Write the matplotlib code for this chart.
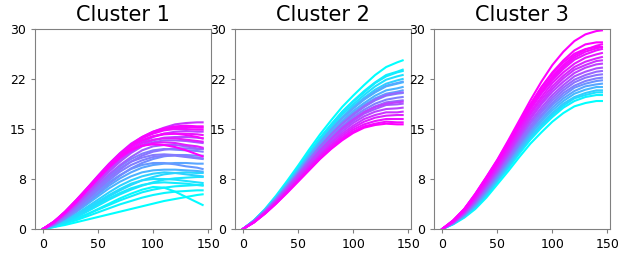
import matplotlib.pyplot as plt
from matplotlib import cm

# sample positions along x for every curve
x_pts = [0, 10, 20, 30, 40, 50, 60, 70, 80, 90, 100, 110, 120, 130, 140, 145]

# cluster 1: colour value (0 = cyan, 1 = magenta) and curve values
c1_colors = [0.0, 0.02, 0.04, 0.06, 0.08, 0.1, 0.12, 0.15, 0.18,
             0.3, 0.35, 0.4, 0.45, 0.5, 0.52, 0.55, 0.5,
             0.62, 0.66, 0.7, 0.74,
             0.78, 0.88, 0.9, 0.92, 0.94, 0.96, 0.98, 1.0, 0.97]
c1_values = [
    [0, 0.3, 0.6, 1.0, 1.4, 1.8, 2.2, 2.6, 3.0, 3.4, 3.8, 4.2, 4.5, 4.8, 5.1, 5.2],
    [0, 0.4, 0.9, 1.5, 2.2, 3.0, 3.8, 4.6, 5.3, 5.9, 6.3, 6.2, 5.6, 4.8, 4.0, 3.6],
    [0, 0.3, 0.8, 1.3, 1.9, 2.5, 3.1, 3.7, 4.2, 4.7, 5.1, 5.4, 5.6, 5.7, 5.8, 5.8],
    [0, 0.4, 0.9, 1.5, 2.2, 2.9, 3.6, 4.3, 4.9, 5.5, 5.9, 6.2, 6.4, 6.5, 6.6, 6.6],
    [0, 0.5, 1.1, 1.9, 2.8, 3.7, 4.6, 5.4, 6.1, 6.6, 6.9, 7.0, 6.9, 6.8, 6.6, 6.5],
    [0, 0.4, 1.0, 1.7, 2.6, 3.5, 4.4, 5.2, 5.9, 6.5, 7.0, 7.4, 7.6, 7.7, 7.8, 7.8],
    [0, 0.5, 1.2, 2.1, 3.1, 4.1, 5.1, 6.0, 6.8, 7.3, 7.5, 7.5, 7.4, 7.2, 7.0, 6.9],
    [0, 0.5, 1.1, 1.9, 2.9, 3.9, 4.9, 5.8, 6.6, 7.3, 7.8, 8.2, 8.4, 8.5, 8.4, 8.4],
    [0, 0.6, 1.3, 2.2, 3.3, 4.4, 5.5, 6.5, 7.3, 7.9, 8.3, 8.5, 8.4, 8.2, 8.0, 7.9],
    [0, 0.6, 1.5, 2.5, 3.7, 4.9, 6.1, 7.1, 7.9, 8.5, 8.8, 8.9, 8.9, 8.8, 8.7, 8.6],
    [0, 0.6, 1.5, 2.6, 3.9, 5.2, 6.5, 7.6, 8.5, 9.2, 9.6, 9.8, 9.9, 9.9, 9.8, 9.8],
    [0, 0.7, 1.7, 2.9, 4.3, 5.7, 7.0, 8.1, 9.0, 9.6, 9.9, 9.9, 9.7, 9.4, 9.2, 9.0],
    [0, 0.6, 1.6, 2.7, 4.0, 5.4, 6.8, 8.0, 9.1, 9.9, 10.5, 10.9, 11.1, 11.1, 11.0, 11.0],
    [0, 0.7, 1.7, 3.0, 4.4, 5.9, 7.3, 8.6, 9.6, 10.3, 10.8, 11.0, 11.0, 10.8, 10.6, 10.5],
    [0, 0.8, 1.9, 3.2, 4.7, 6.3, 7.8, 9.1, 10.1, 10.7, 11.1, 11.2, 11.1, 10.9, 10.7, 10.6],
    [0, 0.7, 1.8, 3.1, 4.6, 6.1, 7.6, 8.9, 10.1, 11.0, 11.6, 11.9, 12.1, 12.1, 12.0, 12.0],
    [0, 0.8, 1.9, 3.3, 4.8, 6.4, 8.0, 9.4, 10.5, 11.3, 11.8, 12.0, 11.9, 11.8, 11.7, 11.6],
    [0, 0.8, 2.0, 3.4, 5.0, 6.6, 8.2, 9.6, 10.8, 11.8, 12.4, 12.6, 12.6, 12.4, 12.1, 12.0],
    [0, 0.9, 2.1, 3.6, 5.2, 6.9, 8.6, 10.1, 11.4, 12.4, 13.0, 13.3, 13.3, 13.2, 13.0, 12.9],
    [0, 0.9, 2.1, 3.6, 5.3, 7.0, 8.7, 10.2, 11.6, 12.6, 13.3, 13.7, 13.8, 13.8, 13.7, 13.6],
    [0, 0.9, 2.2, 3.7, 5.4, 7.2, 8.9, 10.5, 11.9, 13.0, 13.8, 14.3, 14.6, 14.7, 14.6, 14.6],
    [0, 1.1, 2.6, 4.3, 6.1, 8.0, 9.8, 11.4, 12.8, 13.8, 14.6, 15.2, 15.7, 15.9, 16.0, 16.0],
    [0, 1.0, 2.4, 4.0, 5.8, 7.5, 9.2, 10.6, 11.7, 12.5, 12.9, 13.0, 12.9, 12.6, 12.4, 12.2],
    [0, 1.0, 2.4, 4.0, 5.8, 7.6, 9.3, 10.8, 12.0, 12.9, 13.4, 13.6, 13.6, 13.4, 13.2, 13.1],
    [0, 1.0, 2.5, 4.1, 5.9, 7.7, 9.5, 11.0, 12.3, 13.3, 13.9, 14.2, 14.3, 14.3, 14.2, 14.1],
    [0, 1.1, 2.5, 4.2, 6.0, 7.8, 9.6, 11.2, 12.5, 13.6, 14.3, 14.8, 15.0, 15.0, 14.9, 14.9],
    [0, 1.1, 2.5, 4.2, 6.0, 7.9, 9.7, 11.3, 12.6, 13.7, 14.5, 15.0, 15.2, 15.3, 15.2, 15.2],
    [0, 1.1, 2.6, 4.3, 6.1, 7.9, 9.7, 11.3, 12.7, 13.8, 14.6, 15.1, 15.4, 15.5, 15.4, 15.4],
    [0, 1.0, 2.4, 4.0, 5.8, 7.6, 9.3, 10.8, 11.9, 12.5, 12.7, 12.6, 12.3, 11.8, 11.2, 10.9],
    [0, 1.1, 2.5, 4.2, 6.0, 7.8, 9.5, 11.0, 12.3, 13.3, 13.9, 14.3, 14.3, 14.1, 13.8, 13.6],
]

# cluster 2
c2_colors = [0.0, 0.05, 0.08, 0.12, 0.18, 0.35, 0.25, 0.3, 0.38, 0.6, 0.45,
             0.5, 0.58, 0.75, 0.65, 0.72, 0.8, 0.86, 0.92, 0.95, 1.0]
c2_values = [
    [0, 1.3, 3.0, 5.0, 7.2, 9.5, 11.9, 14.2, 16.3, 18.3, 20.0, 21.6, 23.1, 24.3, 25.0, 25.3],
    [0, 1.3, 2.9, 4.8, 6.9, 9.2, 11.5, 13.7, 15.7, 17.6, 19.2, 20.7, 22.0, 23.1, 23.6, 23.9],
    [0, 1.3, 2.9, 4.8, 6.9, 9.1, 11.4, 13.6, 15.6, 17.5, 19.1, 20.5, 21.9, 22.9, 23.5, 23.7],
    [0, 1.2, 2.8, 4.7, 6.8, 9.0, 11.2, 13.4, 15.3, 17.2, 18.7, 20.1, 21.4, 22.4, 22.9, 23.1],
    [0, 1.2, 2.8, 4.7, 6.7, 8.8, 11.0, 13.1, 15.0, 16.8, 18.4, 19.7, 20.9, 21.8, 22.3, 22.5],
    [0, 1.2, 2.8, 4.6, 6.6, 8.7, 10.9, 13.0, 14.9, 16.6, 18.1, 19.5, 20.6, 21.5, 21.9, 22.1],
    [0, 1.2, 2.8, 4.6, 6.6, 8.7, 10.8, 12.9, 14.8, 16.6, 18.1, 19.4, 20.5, 21.4, 21.8, 22.0],
    [0, 1.2, 2.7, 4.5, 6.5, 8.5, 10.6, 12.7, 14.5, 16.2, 17.7, 18.9, 20.0, 20.8, 21.1, 21.3],
    [0, 1.2, 2.7, 4.4, 6.4, 8.4, 10.5, 12.5, 14.3, 16.0, 17.4, 18.6, 19.6, 20.3, 20.6, 20.8],
    [0, 1.2, 2.7, 4.4, 6.3, 8.3, 10.4, 12.4, 14.2, 15.8, 17.2, 18.4, 19.4, 20.1, 20.4, 20.5],
    [0, 1.1, 2.6, 4.4, 6.3, 8.3, 10.3, 12.3, 14.1, 15.8, 17.1, 18.3, 19.3, 20.0, 20.3, 20.4],
    [0, 1.1, 2.6, 4.3, 6.2, 8.1, 10.1, 12.1, 13.8, 15.4, 16.8, 17.9, 18.8, 19.4, 19.7, 19.8],
    [0, 1.1, 2.6, 4.3, 6.1, 8.0, 10.0, 11.9, 13.6, 15.2, 16.5, 17.6, 18.4, 19.0, 19.2, 19.3],
    [0, 1.1, 2.5, 4.2, 6.0, 8.0, 9.9, 11.8, 13.5, 15.1, 16.4, 17.5, 18.3, 18.8, 19.0, 19.1],
    [0, 1.1, 2.5, 4.2, 6.0, 7.9, 9.8, 11.7, 13.4, 14.9, 16.2, 17.3, 18.0, 18.6, 18.7, 18.8],
    [0, 1.1, 2.5, 4.1, 5.9, 7.7, 9.6, 11.5, 13.1, 14.6, 15.9, 16.9, 17.6, 18.0, 18.1, 18.2],
    [0, 1.1, 2.4, 4.0, 5.8, 7.6, 9.4, 11.2, 12.9, 14.3, 15.5, 16.5, 17.1, 17.5, 17.5, 17.6],
    [0, 1.0, 2.4, 4.0, 5.7, 7.5, 9.3, 11.0, 12.6, 14.0, 15.2, 16.1, 16.7, 17.0, 17.1, 17.1],
    [0, 1.0, 2.4, 3.9, 5.6, 7.3, 9.1, 10.8, 12.4, 13.7, 14.9, 15.7, 16.2, 16.5, 16.5, 16.5],
    [0, 1.0, 2.3, 3.8, 5.5, 7.2, 8.9, 10.6, 12.1, 13.5, 14.6, 15.4, 15.8, 16.1, 16.0, 16.0],
    [0, 1.0, 2.3, 3.8, 5.4, 7.1, 8.8, 10.5, 12.0, 13.3, 14.4, 15.2, 15.6, 15.8, 15.7, 15.7],
]

# cluster 3
c3_colors = [0.0, 0.05, 0.12, 0.2, 0.28, 0.35, 0.42, 0.5, 0.55, 0.6,
             0.68, 0.75, 0.8, 0.85, 0.9, 0.92, 0.95, 0.98, 0.97, 0.99, 1.0]
c3_values = [
    [0, 0.7, 1.7, 3.0, 4.7, 6.7, 8.7, 10.8, 12.8, 14.5, 16.1, 17.4, 18.4, 18.9, 19.2, 19.2],
    [0, 0.8, 1.8, 3.2, 5.0, 7.1, 9.1, 11.3, 13.4, 15.2, 16.8, 18.2, 19.2, 19.8, 20.1, 20.1],
    [0, 0.8, 1.9, 3.3, 5.1, 7.2, 9.3, 11.6, 13.7, 15.5, 17.1, 18.5, 19.6, 20.1, 20.5, 20.5],
    [0, 0.8, 1.9, 3.4, 5.2, 7.3, 9.5, 11.7, 13.9, 15.7, 17.4, 18.8, 19.8, 20.4, 20.8, 20.8],
    [0, 0.8, 2.0, 3.5, 5.4, 7.5, 9.7, 12.0, 14.2, 16.1, 17.8, 19.2, 20.3, 20.9, 21.3, 21.3],
    [0, 0.9, 2.1, 3.6, 5.6, 7.7, 10.0, 12.3, 14.5, 16.4, 18.2, 19.6, 20.7, 21.4, 21.7, 21.8],
    [0, 0.9, 2.1, 3.8, 5.7, 7.9, 10.2, 12.6, 14.8, 16.8, 18.6, 20.0, 21.2, 21.8, 22.2, 22.3],
    [0, 0.9, 2.2, 3.9, 5.9, 8.1, 10.4, 12.8, 15.1, 17.1, 18.9, 20.4, 21.5, 22.2, 22.6, 22.7],
    [0, 0.9, 2.3, 4.0, 6.0, 8.3, 10.6, 13.1, 15.4, 17.5, 19.3, 20.8, 22.0, 22.7, 23.1, 23.2],
    [0, 1.0, 2.3, 4.1, 6.2, 8.5, 10.9, 13.4, 15.8, 17.8, 19.7, 21.2, 22.4, 23.1, 23.6, 23.7],
    [0, 1.0, 2.4, 4.2, 6.4, 8.6, 11.1, 13.7, 16.1, 18.2, 20.1, 21.6, 22.9, 23.6, 24.1, 24.2],
    [0, 1.0, 2.5, 4.4, 6.6, 8.9, 11.4, 14.0, 16.5, 18.7, 20.6, 22.1, 23.4, 24.2, 24.7, 24.8],
    [0, 1.1, 2.6, 4.5, 6.7, 9.1, 11.6, 14.3, 16.8, 19.0, 21.0, 22.6, 23.9, 24.6, 25.2, 25.3],
    [0, 1.1, 2.6, 4.6, 6.9, 9.3, 11.9, 14.6, 17.2, 19.4, 21.4, 23.0, 24.3, 25.1, 25.6, 25.8],
    [0, 1.1, 2.7, 4.8, 7.1, 9.5, 12.2, 15.0, 17.5, 19.8, 21.9, 23.5, 24.8, 25.7, 26.2, 26.4],
    [0, 1.2, 2.8, 4.9, 7.3, 9.7, 12.5, 15.3, 17.9, 20.3, 22.3, 24.0, 25.4, 26.2, 26.8, 27.0],
    [0, 1.2, 2.8, 5.0, 7.4, 9.9, 12.6, 15.5, 18.1, 20.5, 22.6, 24.3, 25.7, 26.6, 27.1, 27.3],
    [0, 1.2, 2.9, 5.1, 7.5, 10.0, 12.8, 15.7, 18.4, 20.8, 22.9, 24.6, 26.0, 26.9, 27.5, 27.7],
    [0, 1.3, 3.0, 5.2, 7.7, 10.3, 13.1, 16.0, 18.7, 21.2, 23.3, 25.0, 26.3, 27.0, 27.3, 27.3],
    [0, 1.3, 3.0, 5.2, 7.7, 10.2, 13.0, 15.9, 18.7, 21.3, 23.5, 25.3, 26.8, 27.7, 28.0, 28.0],
    [0, 1.3, 3.0, 5.3, 7.8, 10.4, 13.3, 16.3, 19.3, 22.1, 24.6, 26.6, 28.2, 29.2, 29.7, 29.8],
]

titles = ['Cluster 1', 'Cluster 2', 'Cluster 3']
y_ticks = [0, 7.5, 15, 22.5, 30]
x_ticks = [0, 50, 100, 150]

fig = plt.figure(figsize=(6.34, 2.57), dpi=100)
lefts = [0.0552, 0.3707, 0.685]
panels = [(c1_colors, c1_values), (c2_colors, c2_values), (c3_colors, c3_values)]

for left, title, (colors, values) in zip(lefts, titles, panels):
    ax = fig.add_axes([left, 0.109, 0.277, 0.778])
    order = sorted(range(len(colors)), key=lambda i: colors[i])
    for i in order:
        ax.plot(x_pts, values[i], color=cm.cool(colors[i]), lw=1.5)
    ax.set_ylim(0, 30)
    ax.set_yticks(y_ticks)
    ax.set_yticklabels(['{:.0f}'.format(v) for v in y_ticks])
    ax.set_xticks(x_ticks)
    ax.tick_params(labelsize=9, color='#808080', length=3)
    for s in ax.spines.values():
        s.set_color('#808080')
    ax.set_title(title, fontsize=15)

fig.savefig('out.png', dpi=100)
